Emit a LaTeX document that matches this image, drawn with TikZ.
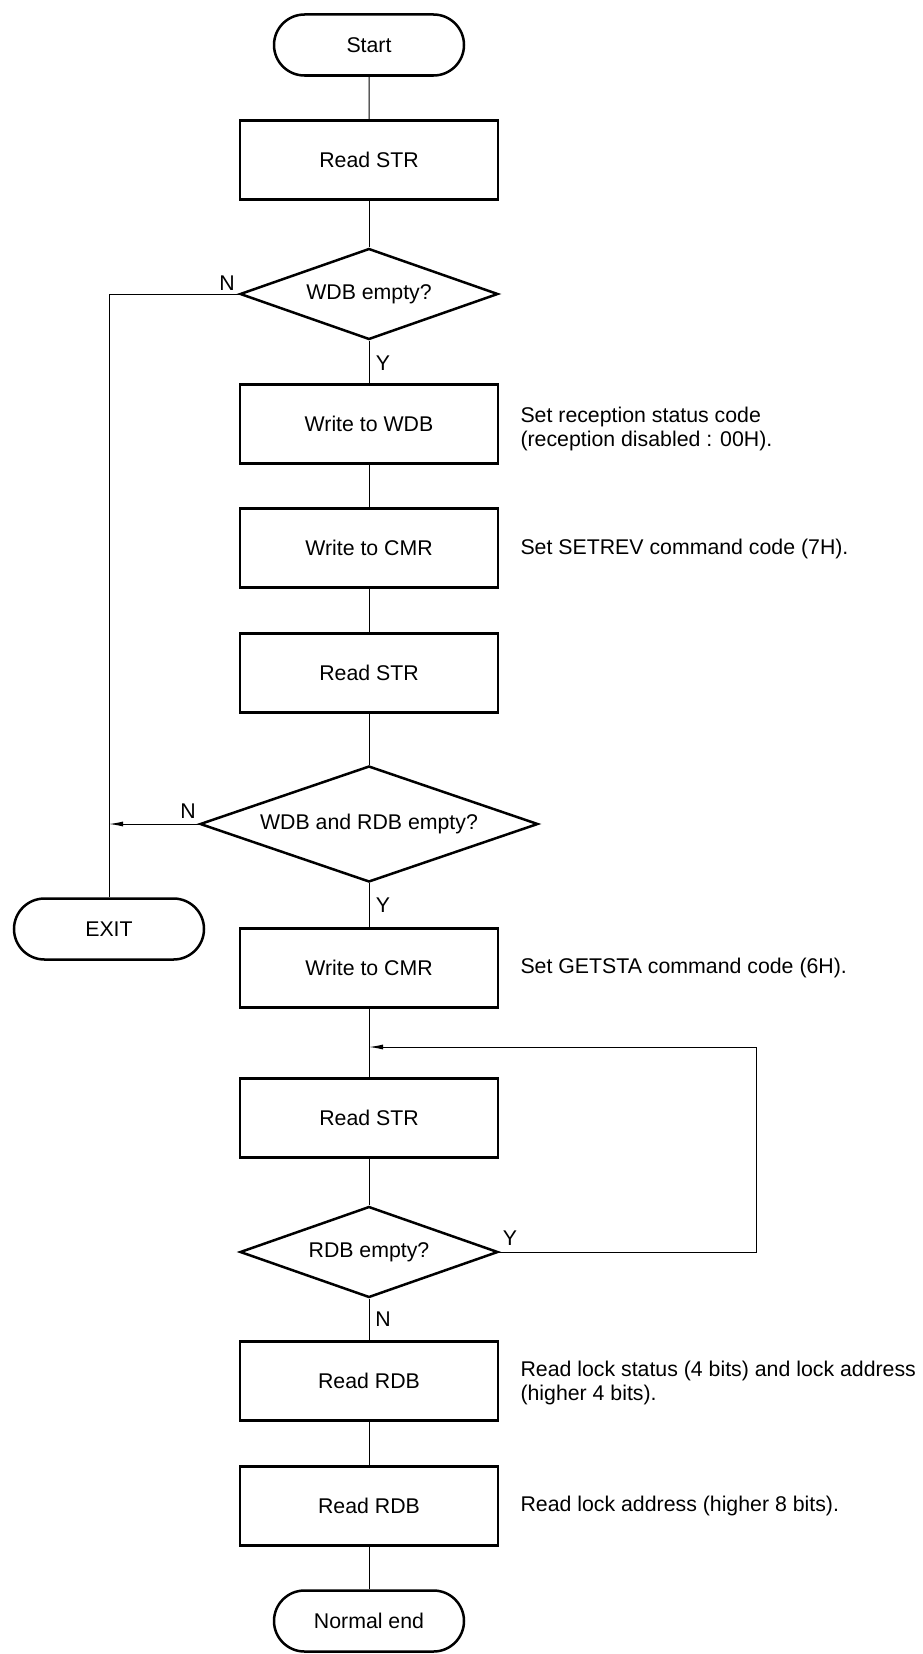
\documentclass[tikz,border=0pt]{standalone}
\usepackage{fontspec}
\setmainfont{Liberation Sans}
\usetikzlibrary{arrows.meta,shapes.geometric,shapes.misc}

\begin{document}
\begin{tikzpicture}[
  x=1pt,y=-1pt,
  terminal/.style={rounded rectangle,draw,line width=2.5pt,minimum width=190pt,minimum height=61pt,inner sep=0pt},
  process/.style={rectangle,draw,line width=2.5pt,minimum width=258pt,minimum height=79pt,inner sep=0pt},
  decision/.style={diamond,draw,line width=2.5pt,aspect=2.8,inner sep=0pt,minimum width=258pt,minimum height=91pt},
  conn/.style={line width=1pt},
  arr/.style={conn,-{Latex[length=14pt,width=5pt]}},
  note/.style={anchor=west,align=left},
  yn/.style={inner sep=0pt},
  font=\fontsize{21.3}{24.5}\selectfont
]
\useasboundingbox (0,0) rectangle (922,1654);
\node[terminal] (start) at (369,45) {Start};
\node[process] (str1) at (369,160) {Read STR};
\node[decision] (wdb) at (369,294) {WDB empty?};
\node[process] (wwdb) at (369,424) {Write to WDB};
\node[process] (cmr1) at (369,548) {Write to CMR};
\node[process] (str2) at (369,673) {Read STR};
\node[decision,minimum width=338pt,minimum height=116pt] (both) at (369,824) {WDB and RDB empty?};
\node[terminal] (exit) at (109,929) {EXIT};
\node[process] (cmr2) at (369,968) {Write to CMR};
\coordinate (join) at (369,1047);
\coordinate (loop) at (756,1047);
\node[process] (str3) at (369,1118) {Read STR};
\node[decision] (rdb) at (369,1252) {RDB empty?};
\node[process] (rdb1) at (369,1381) {Read RDB};
\node[process] (rdb2) at (369,1506) {Read RDB};
\node[terminal] (end) at (369,1621) {Normal end};
\foreach \a/\b in {start/str1,str1/wdb,wdb/wwdb,wwdb/cmr1,cmr1/str2,str2/both,
                   both/cmr2,cmr2/str3,str3/rdb,rdb/rdb1,rdb1/rdb2,rdb2/end}
  \draw[conn] (\a) -- (\b);
\draw[conn] (wdb.west) -| (exit.north);
\draw[arr] (both.west) -- (both.west -| exit.north);
\draw[arr] (rdb.east) -| (loop) -- (join);
% branch labels
\node[yn] (n1) at (227,283) {N};
\node[yn] (y1) at (383,363) {Y};
\node[yn] (n2) at (188,811) {N};
\node[yn] (y2) at (383,905) {Y};
\node[yn] (y3) at (510,1238) {Y};
\node[yn] (n3) at (383,1319) {N};
% notes
\node[note] (t1) at (517,429) {Set reception status code\\(reception disabled : 00H).};
\node[note] (t2) at (517,549) {Set SETREV command code (7H).};
\node[note] (t3) at (517,968) {Set GETSTA command code (6H).};
\node[note] (t4) at (517,1383) {Read lock status (4 bits) and lock address\\(higher 4 bits).};
\node[note] (t5) at (517,1506) {Read lock address (higher 8 bits).};
\end{tikzpicture}
\end{document}
